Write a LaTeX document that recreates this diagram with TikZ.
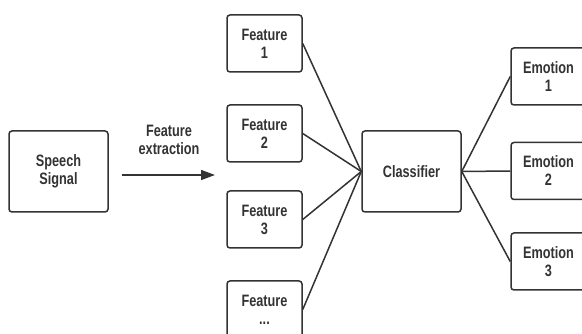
\documentclass[tikz,border=0pt]{standalone}
\usepackage{fontspec}
\setmainfont{Liberation Sans}[FakeStretch=0.77]
\usepackage{xcolor}
\usetikzlibrary{positioning,arrows.meta}
\definecolor{boxgray}{HTML}{333333}
\newcommand{\featdots}{...}

\begin{document}
\begin{tikzpicture}[x=1pt,y=-1pt,
    box/.style={draw=boxgray, line width=1.5pt, rounded corners=3pt,
      minimum width=75pt, minimum height=57pt, inner sep=0pt, align=center,
      text=boxgray, font=\fontsize{16.5}{18}\selectfont\bfseries},
    bigbox/.style={box, minimum width=99pt, minimum height=81pt},
    link/.style={draw=boxgray, line width=1.5pt}]
  \clip (0,0) rectangle (582,334);
  \fill[white] (0,0) rectangle (582,334);
  % input and extraction arrow
  \node[bigbox] (speech) at (58.5,171.5) {Speech\\Signal};
  \coordinate (arrowbeg) at (122,175);
  \coordinate (arrowend) at (215,175);
  \draw[link,-{Triangle[length=14pt,width=10pt]}] (arrowbeg) -- (arrowend);
  \node[text=boxgray, align=center, font=\fontsize{16.5}{18}\selectfont\bfseries]
    (extract) at (169,140) {Feature\\extraction};
  % features
  \node[bigbox] (classifier) at (411.5,171.5) {Classifier};
  \foreach \i/\t/\y in {1/1/43.5,2/2/133.5,3/3/219.5,4/\featdots/309.5}
    {
      \node[box] (feat\i) at (264.5,\y) {Feature\\\t};
      \draw[link] (feat\i.east) -- (classifier.west);
    }
  % emotions
  \foreach \i/\y in {1/76.5,2/171,3/261.5}
    {
      \node[box] (emo\i) at (548.5,\y) {Emotion\\\i};
      \draw[link] (classifier.east) -- (emo\i.west);
    }
\end{tikzpicture}
\end{document}
